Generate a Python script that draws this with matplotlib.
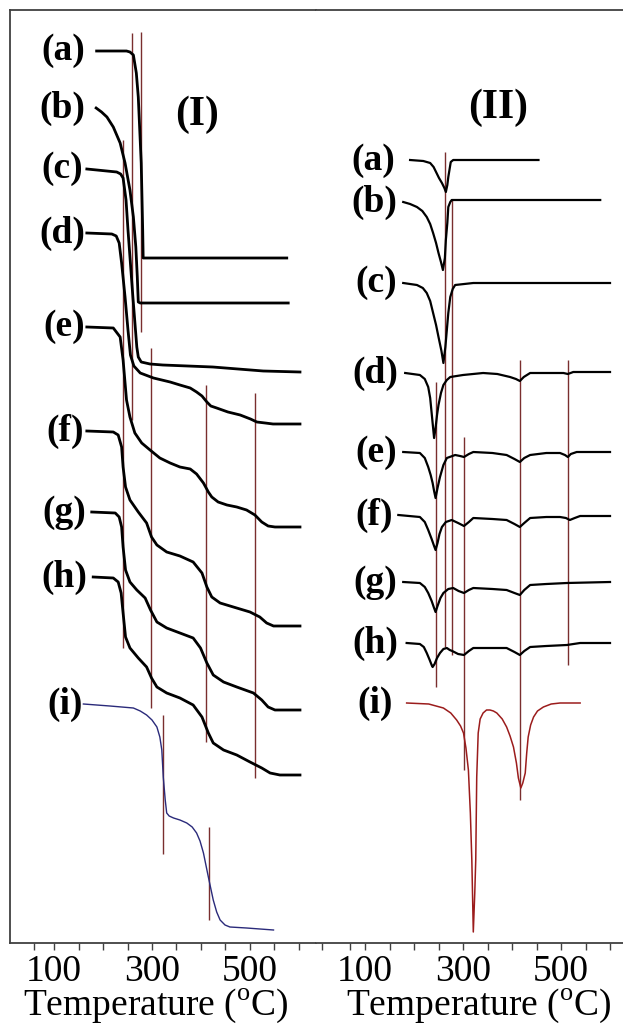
import numpy as np
import matplotlib
matplotlib.use("Agg")
import matplotlib.pyplot as plt

# TGA (panel I) and DTG (panel II) of samples (a)-(i), stacked curves, a.u.

labels = ["(a)", "(b)", "(c)", "(d)", "(e)", "(f)", "(g)", "(h)", "(i)"]

# ---- panel (I): TGA, temperature / degC and stacked signal / a.u.
tga_a_T = [187, 248, 255, 262, 268, 272, 278, 281, 282, 575]
tga_a_y = [892, 892, 891, 888, 870, 846, 780, 713, 685, 685]
tga_b_T = [186, 197, 208, 221, 235, 245, 255, 262, 267, 270, 272, 276, 578]
tga_b_y = [835, 831, 826, 816, 800, 780, 753, 726, 696, 666, 641, 640, 640]
tga_c_T = [167, 228, 236, 241, 247, 251, 261, 269, 272, 278, 296, 322, 424, 527, 602]
tga_c_y = [774, 771, 769, 765, 743, 713, 646, 596, 586, 581, 579, 578, 576, 572, 571]
tga_d_T = [167, 218, 227, 233, 238, 245, 251, 256, 263, 276, 303, 337, 357, 378, 391,
           402, 412, 420, 432, 455, 480, 501, 514, 531, 547, 602]
tga_d_y = [710, 709, 707, 700, 680, 646, 613, 588, 577, 570, 565, 561, 558, 555, 551,
           547, 541, 537, 535, 531, 528, 524, 521, 520, 519, 519]
tga_e_T = [167, 221, 235, 241, 248, 255, 265, 279, 296, 316, 337, 357, 378, 391, 405,
           415, 422, 435, 453, 473, 493, 510, 524, 537, 551, 602]
tga_e_y = [616, 615, 606, 583, 543, 526, 510, 500, 493, 485, 480, 476, 474, 469, 460,
           451, 446, 441, 438, 436, 433, 428, 421, 417, 416, 416]
tga_f_T = [167, 221, 231, 238, 241, 246, 255, 272, 289, 299, 310, 330, 357, 384, 402,
           412, 422, 439, 466, 500, 520, 534, 548, 602]
tga_f_y = [512, 511, 508, 496, 476, 456, 443, 431, 420, 406, 398, 391, 387, 381, 370,
           356, 346, 340, 336, 331, 326, 320, 317, 317]
tga_g_T = [177, 225, 233, 238, 241, 246, 255, 269, 286, 297, 310, 330, 357, 384, 399,
           412, 425, 446, 473, 507, 524, 537, 551, 602]
tga_g_y = [431, 430, 426, 416, 396, 373, 361, 353, 345, 333, 321, 315, 310, 305, 295,
           280, 268, 261, 256, 250, 243, 236, 233, 233]
tga_h_T = [180, 221, 231, 237, 241, 246, 255, 272, 289, 299, 310, 330, 357, 384, 402,
           415, 425, 446, 473, 500, 524, 541, 561, 602]
tga_h_y = [366, 365, 361, 350, 330, 306, 295, 285, 276, 265, 256, 250, 245, 238, 226,
           210, 200, 193, 188, 181, 175, 170, 168, 168]
tga_i_T = [160, 214, 262, 276, 289, 300, 310, 316, 320, 323, 327, 330, 335, 344, 357,
           371, 382, 391, 398, 405, 415, 425, 432, 439, 449, 459, 493, 548]
tga_i_y = [239, 237, 235, 232, 228, 223, 216, 206, 193, 166, 143, 130, 127, 125, 123,
           120, 116, 110, 102, 90, 66, 43, 31, 23, 18, 16, 15, 13]

# marker lines in panel (I): temperature, bottom, top
tga_mark_T = [240, 260, 277, 298, 410, 510]
tga_mark_lo = [295, 523, 611, 235, 201, 165]
tga_mark_hi = [803, 910, 911, 595, 558, 550]
tga_i_mark_T = [322, 417]
tga_i_mark_lo = [89, 23]
tga_i_mark_hi = [228, 116]

# ---- panel (II): DTG
dtg_a_T = [192, 219, 233, 240, 246, 251, 257, 262, 265, 268, 270, 275, 280, 454]
dtg_a_y = [783, 782, 780, 776, 770, 765, 760, 755, 751, 758, 766, 781, 783, 783]
dtg_b_T = [178, 192, 206, 217, 226, 233, 239, 245, 250, 255, 259, 263, 265, 268, 270,
           274, 277, 580]
dtg_b_y = [741, 739, 736, 732, 726, 719, 710, 700, 690, 681, 673, 685, 703, 720, 736,
           741, 743, 743]
dtg_c_T = [178, 206, 218, 226, 233, 239, 245, 250, 256, 260, 264, 267, 270, 274, 279,
           284, 321, 600]
dtg_c_y = [660, 658, 655, 650, 642, 630, 618, 606, 592, 580, 596, 613, 630, 646, 654,
           658, 660, 660]
dtg_d_T = [182, 212, 222, 229, 233, 236, 239, 241, 244, 247, 250, 255, 260, 267, 274,
           300, 341, 370, 396, 408, 416, 424, 437, 470, 505, 514, 525, 600]
dtg_d_y = [570, 568, 564, 556, 545, 530, 515, 505, 515, 528, 538, 550, 558, 563, 566,
           568, 570, 569, 566, 564, 562, 566, 570, 570, 570, 569, 571, 571]
dtg_e_T = [178, 212, 222, 229, 234, 238, 241, 244, 248, 253, 260, 267, 284, 294, 302,
           312, 321, 360, 389, 405, 416, 425, 437, 470, 498, 508, 514, 520, 532, 600]
dtg_e_y = [491, 490, 485, 476, 468, 460, 452, 445, 455, 466, 478, 485, 488, 487, 486,
           489, 491, 490, 488, 484, 481, 485, 488, 490, 490, 488, 486, 489, 491, 491]
dtg_f_T = [168, 212, 222, 229, 236, 241, 244, 248, 252, 257, 265, 277, 290, 302, 312,
           321, 360, 389, 405, 416, 425, 437, 470, 498, 510, 518, 528, 539, 600]
dtg_f_y = [428, 426, 421, 413, 404, 397, 393, 400, 409, 416, 421, 423, 420, 417, 421,
           425, 424, 423, 419, 416, 420, 425, 426, 426, 425, 423, 425, 427, 427]
dtg_g_T = [178, 212, 222, 229, 236, 241, 244, 248, 254, 260, 270, 280, 291, 302, 312,
           321, 360, 389, 405, 416, 425, 437, 470, 512, 600]
dtg_g_y = [361, 360, 356, 350, 342, 335, 331, 337, 345, 350, 354, 355, 352, 350, 353,
           355, 354, 353, 350, 348, 353, 358, 359, 360, 361]
dtg_h_T = [185, 212, 220, 226, 232, 236, 238, 242, 247, 253, 260, 267, 273, 278, 290,
           302, 312, 321, 360, 389, 405, 416, 425, 437, 470, 512, 539, 600]
dtg_h_y = [300, 299, 296, 290, 283, 278, 276, 279, 285, 290, 294, 295, 293, 292, 289,
           288, 292, 295, 295, 295, 291, 288, 292, 296, 297, 298, 300, 300]
dtg_i_T = [185, 230, 260, 275, 287, 295, 301, 306, 311, 315, 318, 321, 324, 326, 328,
           331, 335, 341, 348, 355, 362, 369, 380, 389, 396, 403, 409, 413, 418, 422,
           427, 430, 433, 438, 444, 452, 464, 480, 498, 539]
dtg_i_y = [240, 239, 235, 230, 223, 217, 210, 195, 173, 130, 83, 11, 50, 83, 166,
           210, 224, 230, 233, 233, 232, 230, 224, 216, 207, 196, 180, 165, 155, 160,
           170, 190, 206, 218, 226, 232, 236, 239, 240, 240]

dtg_mark_T = [244, 263, 277, 302, 416, 514]
dtg_mark_lo = [256, 296, 288, 173, 143, 278]
dtg_mark_hi = [561, 791, 743, 506, 583, 583]

# label anchors (right edge of the label text)
tga_label_T = [163, 163, 160, 163, 163, 160, 165, 168, 158]
dtg_label_T = [161, 166, 166, 168, 166, 157, 166, 168, 157]

# axis ticks
major_ticks = [100, 300, 500]
minor_ticks_I = [60] + list(range(150, 601, 50))
minor_ticks_II = [12, 70] + list(range(150, 601, 50))

serif = "Liberation Serif"
plt.rcParams["font.family"] = serif
plt.rcParams["mathtext.fontset"] = "custom"
plt.rcParams["mathtext.rm"] = serif

mark_col = "#7a2e2e"
axis_col = "#404040"

fig = plt.figure(figsize=(6.23, 10.29), dpi=100)
ax1 = fig.add_axes([10/623, 86/1029, 306/623, 933/1029])
ax2 = fig.add_axes([316/623, 86/1029, 307/623, 933/1029])

tga = [(tga_a_T, tga_a_y), (tga_b_T, tga_b_y), (tga_c_T, tga_c_y), (tga_d_T, tga_d_y),
       (tga_e_T, tga_e_y), (tga_f_T, tga_f_y), (tga_g_T, tga_g_y), (tga_h_T, tga_h_y)]
dtg = [(dtg_a_T, dtg_a_y), (dtg_b_T, dtg_b_y), (dtg_c_T, dtg_c_y), (dtg_d_T, dtg_d_y),
       (dtg_e_T, dtg_e_y), (dtg_f_T, dtg_f_y), (dtg_g_T, dtg_g_y), (dtg_h_T, dtg_h_y)]

# panel (I)
ax1.vlines(tga_mark_T, tga_mark_lo, tga_mark_hi, color=mark_col, lw=1.0)
ax1.vlines(tga_i_mark_T, tga_i_mark_lo, tga_i_mark_hi, color=mark_col, lw=1.0)
for T, y in tga:
    ax1.plot(T, y, color="k", lw=2.0, solid_joinstyle="round")
ax1.plot(tga_i_T, tga_i_y, color="#2a2a7a", lw=1.0)
starts1 = [c[1][0] for c in tga] + [tga_i_y[0]]
for lab, xt, yt in zip(labels, tga_label_T, starts1):
    ax1.text(xt, yt, lab, ha="right", va="center", fontsize=27, fontweight="bold")
ax1.text(392, 828, "(I)", ha="center", va="center", fontsize=30, fontweight="bold")

# panel (II)
ax2.vlines(dtg_mark_T, dtg_mark_lo, dtg_mark_hi, color=mark_col, lw=1.0)
for T, y in dtg:
    ax2.plot(T, y, color="k", lw=1.6, solid_joinstyle="round")
ax2.plot(dtg_i_T, dtg_i_y, color="#9b1c1c", lw=1.1)
starts2 = [c[1][0] for c in dtg] + [dtg_i_y[0]]
for lab, xt, yt in zip(labels, dtg_label_T, starts2):
    ax2.text(xt, yt, lab, ha="right", va="center", fontsize=27, fontweight="bold")
ax2.text(371, 835, "(II)", ha="center", va="center", fontsize=30, fontweight="bold")

ax1.set_xlim(10.2, 634.7)
ax2.set_xlim(0, 626.5)
for ax, minor in ((ax1, minor_ticks_I), (ax2, minor_ticks_II)):
    ax.set_ylim(0, 933)
    ax.set_yticks([])
    ax.spines["right"].set_visible(False)
    for s in ("top", "bottom", "left"):
        ax.spines[s].set_color(axis_col)
        ax.spines[s].set_linewidth(1.3)
    ax.set_xticks(major_ticks)
    ax.set_xticklabels([str(t) for t in major_ticks])
    ax.set_xticks(minor, minor=True)
    ax.tick_params(axis="x", which="both", direction="out", length=5, width=1.0,
                   colors=axis_col, labelcolor="k", labelsize=27, pad=3)
    ax.set_xlabel(r"Temperature ($^{\mathrm{o}}$C)", fontsize=27, labelpad=0)
ax2.spines["left"].set_visible(False)
ax1.xaxis.set_label_coords(0.476, -0.047)
ax2.xaxis.set_label_coords(0.53, -0.047)

fig.savefig("out.png", dpi=100)
